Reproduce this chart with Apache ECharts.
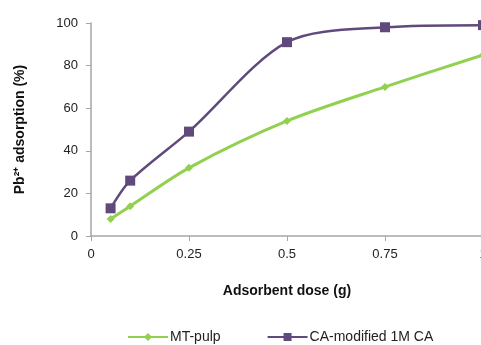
<!DOCTYPE html>
<html>
<head>
<meta charset="utf-8">
<script src="https://cdn.jsdelivr.net/npm/echarts@6/dist/echarts.min.js"></script>
<style>
  html, body { margin: 0; padding: 0; background: #fff; }
  #chart { width: 481px; height: 345px; }
</style>
</head>
<body>
<div id="chart"></div>
<script>
// Adsorbent dose (g)
const doses = [0.05, 0.1, 0.25, 0.5, 0.75, 1.0];
// Pb2+ adsorption (%)
const mtPulp = [8, 14, 32, 54, 70, 85];
const caModified = [13, 26, 49, 91, 98, 99];

const font = 'Liberation Sans, Arial, sans-serif';
const chart = echarts.init(document.getElementById('chart'));

chart.setOption({
  backgroundColor: '#fff',
  animation: false,
  textStyle: { fontFamily: font },
  grid: { left: 91, right: -2, top: 23, bottom: 109, outerBoundsMode: 'none' },
  legend: {
    bottom: 1,
    left: 127,
    padding: 0,
    itemWidth: 40,
    itemHeight: 10,
    itemGap: 46,
    textStyle: { fontSize: 14, color: '#222', fontFamily: font, padding: [0, 0, 0, -3] },
    data: ['MT-pulp', 'CA-modified 1M CA']
  },
  xAxis: {
    type: 'value',
    min: 0,
    max: 1,
    interval: 0.25,
    name: 'Adsorbent dose (g)',
    nameLocation: 'middle',
    nameGap: 48,
    nameTextStyle: { fontWeight: 'bold', fontSize: 14, color: '#111' },
    axisLine: { lineStyle: { color: '#a6a6a6', width: 1.5 } },
    axisTick: { show: true, length: 5, lineStyle: { color: '#a6a6a6' } },
    axisLabel: { color: '#222', fontSize: 13, margin: 12 },
    splitLine: { show: false }
  },
  yAxis: {
    type: 'value',
    min: 0,
    max: 100,
    interval: 20,
    name: 'Pb²⁺ adsorption (%)',
    nameLocation: 'middle',
    nameGap: 64,
    nameTextStyle: { fontWeight: 'bold', fontSize: 14, color: '#111' },
    axisLine: { show: true, lineStyle: { color: '#a6a6a6', width: 1.5 } },
    axisTick: { show: true, length: 5, lineStyle: { color: '#a6a6a6' } },
    axisLabel: { color: '#222', fontSize: 13, margin: 13 },
    splitLine: { show: false }
  },
  series: [
    {
      name: 'MT-pulp',
      type: 'line',
      smooth: 0.3,
      data: doses.map((d, i) => [d, mtPulp[i]]),
      symbol: 'diamond',
      symbolSize: 8,
      lineStyle: { color: '#92d050', width: 3 },
      itemStyle: { color: '#92d050' }
    },
    {
      name: 'CA-modified 1M CA',
      type: 'line',
      smooth: 0.3,
      data: doses.map((d, i) => [d, caModified[i]]),
      symbol: 'rect',
      symbolSize: 10,
      lineStyle: { color: '#604a7b', width: 2.5 },
      itemStyle: { color: '#604a7b' }
    }
  ]
});
</script>
</body>
</html>
